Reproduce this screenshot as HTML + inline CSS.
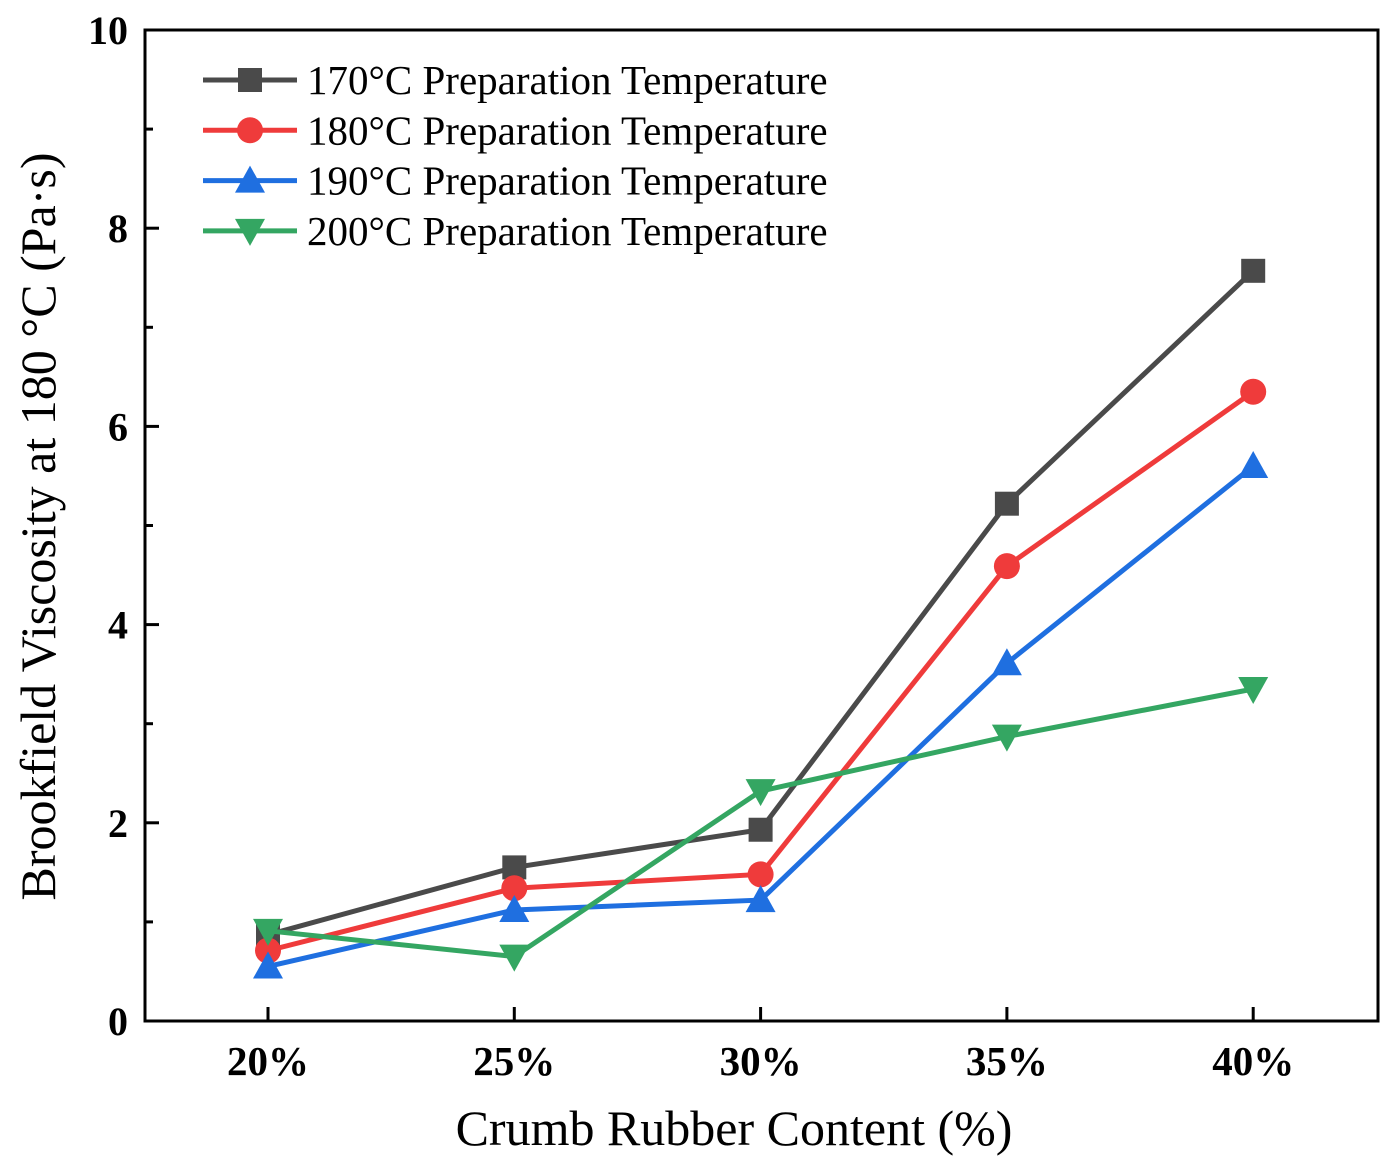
<!DOCTYPE html>
<html><head><meta charset="utf-8"><style>
body{margin:0;background:#fff}
svg text{font-family:"Liberation Serif",serif}
</style></head><body>
<svg id="c" width="1397" height="1170"></svg>
<script>
const categories=["20%","25%","30%","35%","40%"];
const s170=[0.87,1.55,1.93,5.22,7.57];
const s180=[0.71,1.34,1.48,4.59,6.35];
const s190=[0.55,1.12,1.22,3.61,5.6];
const s200=[0.91,0.65,2.32,2.87,3.35];
const yTicks=[0,2,4,6,8,10];
const seriesNames=["170°C Preparation Temperature","180°C Preparation Temperature","190°C Preparation Temperature","200°C Preparation Temperature"];
const NS="http://www.w3.org/2000/svg",svg=document.getElementById('c');
const L=145,R=1378,T=30,B=1021;
const x=i=>268+i*246.3, y=v=>B-(v/10)*(B-T);
function el(t,a,p){const e=document.createElementNS(NS,t);for(const k in a)e.setAttribute(k,a[k]);(p||svg).appendChild(e);return e;}
const ax=el('rect',{x:L,y:T,width:R-L,height:B-T,fill:'none',stroke:'#000','stroke-width':3});


for(let v=0;v<=10;v++){const t=el('line',{x1:L,x2:L+(v%2?8:14),y1:y(v),y2:y(v),stroke:'#000','stroke-width':3});

}
yTicks.forEach(v=>{const t=el('text',{x:L-17,y:y(v)+14,'text-anchor':'end','font-size':40,'font-weight':'bold'});t.textContent=v;

});
categories.forEach((c,i)=>{el('line',{x1:x(i),x2:x(i),y1:B,y2:B-14,stroke:'#000','stroke-width':3});
const t=el('text',{x:x(i),y:B+54,'text-anchor':'middle','font-size':41,'font-weight':'bold'});t.textContent=c;

});
const xt=el('text',{x:734,y:1145,'text-anchor':'middle','font-size':50});xt.textContent="Crumb Rubber Content (%)";


const yt=el('text',{x:0,y:0,'text-anchor':'middle','font-size':50,transform:`translate(55,${(T+B)/2+1}) rotate(-90)`});yt.textContent="Brookfield Viscosity at 180 °C (Pa·s)";


const colors=["#4a4a4a","#ef3b3b","#1f6fe0","#34a662"];
const data=[s170,s180,s190,s200];
function marker(k,cx,cy,g){
 if(k==0)return el('rect',{x:cx-12,y:cy-12,width:24,height:24,fill:colors[k]},g);
 if(k==1)return el('circle',{cx,cy,r:13,fill:colors[k]},g);
 if(k==2)return el('polygon',{points:`${cx},${cy-15} ${cx-15},${cy+12} ${cx+15},${cy+12}`,fill:colors[k]},g);
 return el('polygon',{points:`${cx},${cy+15} ${cx-15},${cy-12} ${cx+15},${cy-12}`,fill:colors[k]},g);
}
data.forEach((d,k)=>{const g=el('g',{});


const pl=el('polyline',{points:d.map((v,i)=>x(i)+','+y(v)).join(' '),fill:'none',stroke:colors[k],'stroke-width':5},g);


d.forEach((v,i)=>{const m=marker(k,x(i),y(v),g);

});
const ly=80+k*50.3;const lg=el('g',{});


el('line',{x1:203,x2:297,y1:ly,y2:ly,stroke:colors[k],'stroke-width':5},lg);
marker(k,250,ly,lg);
const t=el('text',{x:307,y:ly+14,'font-size':41},lg);t.textContent=seriesNames[k];
});
</script>
</body></html>
